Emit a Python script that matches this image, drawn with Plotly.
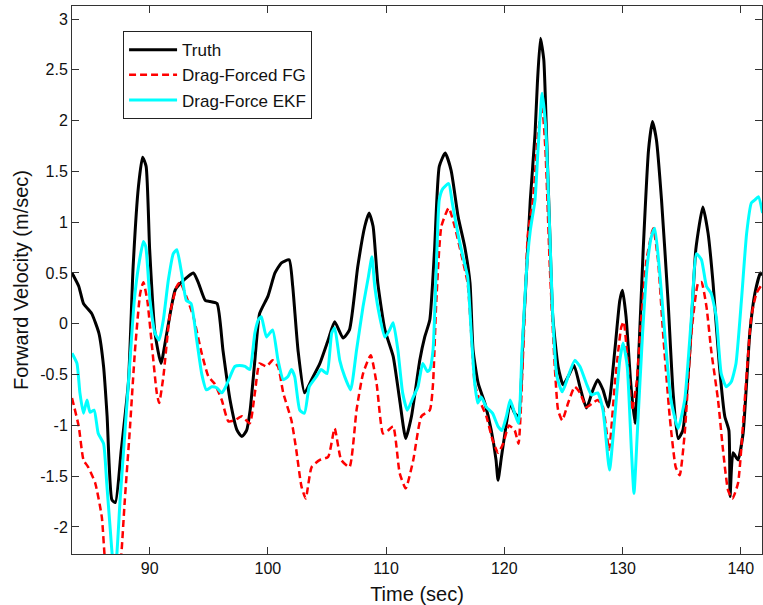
import plotly.graph_objects as go

# ---- data ----
truth_t = [83.43, 84.0, 84.4, 85.1, 85.7, 86.1, 86.4, 86.8, 87.1, 87.6, 88.2, 88.6, 89.05, 89.4, 89.7,
           90.0, 90.45, 90.96, 91.45, 92.15, 92.7, 93.7, 94.1, 94.7, 95.1, 95.7, 96.2, 96.8, 97.4, 97.8,
           98.2, 98.5, 98.9, 99.3, 100.0, 100.6, 101.15, 101.8, 102.1, 102.55, 103.1, 103.7, 104.4, 105.1,
           105.65, 106.36, 106.9, 107.6, 108.2, 108.56, 108.9, 109.3, 109.9, 110.6, 111.15, 111.66, 112.15,
           112.85, 113.27, 113.7, 114.1, 114.5, 115.0, 115.5, 116.1, 116.65, 117.1, 117.36, 117.8, 118.35,
           118.9, 119.3, 119.47, 119.76, 120.18, 120.5, 120.88, 121.2, 121.6, 121.9, 122.2, 122.6, 122.8,
           123.06, 123.34, 123.57, 123.85, 124.1, 124.55, 124.97, 125.4, 125.9, 126.4, 126.95, 127.5, 127.9,
           128.35, 128.8, 129.35, 129.77, 130.0, 130.3, 130.7, 131.05, 131.33, 131.75, 132.2, 132.53, 132.87,
           133.3, 133.85, 134.28, 134.7, 135.1, 135.7, 136.2, 136.8, 137.24, 137.66, 138.2, 138.65, 139.0,
           139.1, 139.35, 139.77, 140.2, 140.77, 141.2, 141.67, 141.85]
truth_v = [0.50, 0.37, 0.20, 0.10, -0.09, -0.42, -0.91, -1.73, -1.76, -1.24, -0.58, 0.56, 1.35, 1.64, 1.55,
           0.73, -0.09, -0.39, -0.09, 0.33, 0.41, 0.50, 0.41, 0.23, 0.22, 0.20, -0.26, -0.75, -1.05, -1.11,
           -1.05, -0.85, -0.36, 0.10, 0.27, 0.50, 0.60, 0.63, 0.37, -0.26, -0.68, -0.55, -0.39, -0.16,
           0.02, -0.14, -0.06, 0.56, 0.96, 1.09, 0.96, 0.40, -0.06, -0.32, -0.75, -1.13, -0.91,
           -0.36, -0.13, 0.04, 0.73, 1.55, 1.68, 1.51, 1.05, 0.76, 0.40, -0.26, -0.59, -0.78,
           -1.05, -1.34, -1.54, -1.31, -0.98, -0.78, -0.88, -0.91, -0.09, 0.56, 1.22, 1.87, 2.37,
           2.81, 2.60, 1.87, 0.89, 0.07, -0.42, -0.60, -0.52, -0.41, -0.62, -0.83, -0.65, -0.55,
           -0.65, -0.82, -0.26, 0.23, 0.33, 0.07, -0.59, -0.98, -0.42, 0.73, 1.71, 1.99, 1.81,
           1.22, 0.23, -0.68, -1.13, -1.05, -0.26, 0.73, 1.15, 0.89, 0.40, -0.42, -0.91, -1.05,
           -1.70, -1.27, -1.34, -1.08, -0.09, 0.30, 0.50, 0.48]

fg_t = [83.43, 84.0, 84.4, 84.8, 85.4, 85.95, 86.2, 86.6, 86.9, 87.3, 87.6, 87.9, 88.3, 88.76, 89.2,
        89.47, 89.8, 90.17, 90.6, 90.8, 91.16, 91.72, 92.3, 92.57, 93.1, 93.7, 94.4, 94.97, 95.5, 96.1,
        96.66, 97.2, 97.8, 98.47, 98.9, 99.3, 99.88, 100.4, 100.86, 101.3, 101.99, 102.4, 102.84, 103.2,
        103.7, 104.4, 105.1, 105.65, 106.2, 106.9, 107.5, 108.05, 108.7, 109.2, 109.74, 110.16, 110.6,
        111.15, 111.66, 112.3, 112.99, 113.7, 113.97, 114.25, 114.68, 115.3, 115.8, 116.35, 116.9, 117.2,
        117.5, 117.9, 118.48, 119.0, 119.47, 119.9, 120.4, 120.88, 121.2, 121.6, 122.0, 122.43, 122.85,
        123.2, 123.48, 123.85, 124.27, 124.55, 124.9, 125.4, 125.96, 126.4, 126.95, 127.5, 127.9, 128.35,
        128.86, 129.35, 129.9, 130.1, 130.47, 130.8, 131.18, 131.6, 132.03, 132.6, 133.0, 133.43, 133.99,
        134.5, 134.84, 135.26, 135.83, 136.4, 136.68, 137.1, 137.5, 138.08, 138.5, 138.93, 139.3, 139.77,
        140.34, 140.9, 141.33, 141.75]
fg_v = [-0.73, -1.01, -1.34, -1.41, -1.57, -1.90, -2.30, -2.70, -2.85, -2.65, -2.28, -1.73, -1.08, -0.26, 0.30,
        0.41, 0.23, -0.19, -0.68, -0.78, -0.52, 0.10, 0.37, 0.41, 0.27, 0.07, -0.29, -0.52, -0.59, -0.75,
        -0.96, -0.95, -0.91, -0.98, -0.68, -0.39, -0.42, -0.36, -0.42, -0.68, -0.95, -1.24, -1.60, -1.72,
        -1.41, -1.34, -1.31, -1.03, -1.34, -1.41, -0.85, -0.49, -0.31, -0.59, -1.08, -1.05, -1.01,
        -1.47, -1.62, -1.34, -0.91, -0.85, -0.59, 0.23, 0.96, 1.14, 0.96, 0.69, 0.40, -0.09,
        -0.59, -0.75, -0.91, -1.14, -1.27, -1.18, -1.00, -1.05, -1.18, -0.26, 0.89, 1.22, 1.87,
        2.14, 1.71, 0.56, -0.42, -0.85, -0.95, -0.78, -0.62, -0.68, -0.82, -0.78, -0.75, -0.82,
        -1.24, -0.59, -0.03, 0.02, -0.42, -0.85, -0.59, 0.07, 0.63, 0.94, 0.63, -0.09, -0.91,
        -1.41, -1.49, -1.08, -0.09, 0.40, 0.41, 0.17, -0.26, -0.75, -1.24, -1.64, -1.72, -1.57,
        -0.75, 0.07, 0.30, 0.38]

ekf_t = [83.43, 83.85, 84.1, 84.4, 84.7, 84.95, 85.3, 85.65, 86.1, 86.37, 86.65, 86.9, 87.05, 87.2, 87.5,
         87.9, 88.3, 88.7, 89.05, 89.47, 89.67, 90.03, 90.45, 90.8, 91.16, 91.58, 92.0, 92.3, 92.7, 93.1,
         93.5, 93.98, 94.4, 94.8, 95.25, 95.67, 96.1, 96.43, 96.8, 97.2, 97.6, 98.07, 98.47, 98.9, 99.2,
         99.45, 99.88, 100.4, 100.86, 101.3, 101.7, 101.99, 102.27, 102.7, 103.1, 103.5, 104.1, 104.5,
         105.0, 105.4, 105.65, 106.08, 106.5, 107.0, 107.5, 108.05, 108.5, 108.8, 109.04, 109.46, 109.9,
         110.3, 110.6, 111.0, 111.4, 111.8, 112.3, 112.7, 113.1, 113.5, 113.7, 113.97, 114.25, 114.5,
         114.8, 115.3, 115.6, 116.07, 116.5, 116.9, 117.2, 117.5, 117.76, 118.05, 118.48, 119.0, 119.47,
         119.8, 120.18, 120.5, 120.88, 121.2, 121.5, 121.9, 122.2, 122.6, 122.85, 123.2, 123.5, 123.85,
         124.1, 124.45, 124.9, 125.4, 125.96, 126.4, 126.95, 127.38, 127.9, 128.35, 128.9, 129.35, 129.77,
         130.05, 130.4, 130.75, 130.97, 131.25, 131.7, 132.08, 132.45, 132.73, 133.15, 133.57, 134.1,
         134.7, 135.26, 135.83, 136.26, 136.68, 137.1, 137.5, 137.93, 138.35, 138.78, 139.2, 139.6,
         140.06, 140.5, 140.9, 141.2, 141.5, 141.85]
ekf_v = [-0.29, -0.39, -0.68, -0.88, -0.75, -0.87, -0.85, -1.08, -1.18, -1.57, -2.00, -2.35, -2.40, -2.30, -1.73,
         -1.08, -0.42, 0.23, 0.56, 0.81, 0.76, 0.23, -0.09, -0.16, 0.04, 0.43, 0.69, 0.73, 0.50, 0.23,
         0.20, -0.16, -0.49, -0.65, -0.62, -0.63, -0.68, -0.62, -0.52, -0.42, -0.41, -0.42, -0.45, -0.09, 0.04,
         0.07, -0.13, -0.06, -0.36, -0.55, -0.52, -0.45, -0.52, -0.85, -0.88, -0.62, -0.52, -0.45,
         -0.49, -0.09, -0.04, -0.36, -0.52, -0.65, -0.26, 0.17, 0.46, 0.66, 0.37, 0.07, -0.13,
         -0.06, 0.01, -0.26, -0.68, -0.85, -0.72, -0.62, -0.39, -0.47, -0.45, -0.26, 0.56, 1.22,
         1.33, 1.38, 1.19, 0.89, 0.66, 0.46, -0.09, -0.59, -0.78, -0.72, -0.82, -0.88, -1.01,
         -1.05, -0.91, -0.75, -0.88, -0.98, -0.26, 0.56, 0.92, 1.22, 1.71, 2.27, 1.94, 0.89,
         0.07, -0.52, -0.67, -0.52, -0.36, -0.42, -0.59, -0.70, -0.68, -0.85, -1.44, -0.91, -0.36,
         -0.19, -0.42, -1.24, -1.67, -1.08, -0.09, 0.56, 0.86, 0.94, 0.50, -0.09, -0.75,
         -1.03, -0.75, 0.07, 0.69, 0.63, 0.37, 0.30, 0.07, -0.49, -0.62, -0.57, -0.39,
         0.23, 0.89, 1.19, 1.22, 1.25, 1.09]

x_ticks = [90, 100, 110, 120, 130, 140]
x_ticktext = ["90", "100", "110", "120", "130", "140"]
y_ticks = [-2, -1.5, -1, -0.5, 0, 0.5, 1, 1.5, 2, 2.5, 3]
y_ticktext = ["-2", "-1.5", "-1", "-0.5", "0", "0.5", "1", "1.5", "2", "2.5", "3"]

FONT = "Liberation Sans, Arial, Helvetica, sans-serif"

fig = go.Figure()
fig.add_trace(go.Scatter(x=truth_t, y=truth_v, mode="lines", name="Truth",
                         line=dict(color="#000000", width=3, shape="spline", smoothing=0.5)))
fig.add_trace(go.Scatter(x=fg_t, y=fg_v, mode="lines", name="Drag-Forced FG",
                         line=dict(color="#ff0000", width=2.5, dash="7px,4px", shape="spline", smoothing=0.5)))
fig.add_trace(go.Scatter(x=ekf_t, y=ekf_v, mode="lines", name="Drag-Force EKF",
                         line=dict(color="#00ffff", width=3, shape="spline", smoothing=0.5)))

axis_common = dict(showline=True, linecolor="#333333", linewidth=1, mirror="allticks",
                   ticks="inside", ticklen=7, tickwidth=1, tickcolor="#333333",
                   showgrid=False, zeroline=False,
                   tickfont=dict(family=FONT, size=16, color="#111111"))

fig.update_xaxes(range=[83.43, 141.8], tickvals=x_ticks, ticktext=x_ticktext,
                 title=dict(text="Time (sec)", font=dict(family=FONT, size=20, color="#111111"), standoff=12),
                 **axis_common)
fig.update_yaxes(range=[-2.266, 3.128], tickvals=y_ticks, ticktext=y_ticktext,
                 title=dict(text="Forward Velocity (m/sec)", font=dict(family=FONT, size=20, color="#111111"), standoff=6),
                 **axis_common)

fig.update_layout(
    width=763, height=605,
    margin=dict(l=72, r=1, t=6, b=51, autoexpand=False),
    plot_bgcolor="white", paper_bgcolor="white",
    font=dict(family=FONT, color="#111111"),
    legend=dict(x=0.074, y=0.954, xanchor="left", yanchor="top",
                bgcolor="white", bordercolor="#222222", borderwidth=1,
                font=dict(family=FONT, size=17, color="#111111"),
                itemwidth=48, tracegroupgap=0),
)

fig.write_html("out.html", config={"displayModeBar": False},
               post_script="document.body.style.margin='0';document.body.style.overflow='hidden';")
